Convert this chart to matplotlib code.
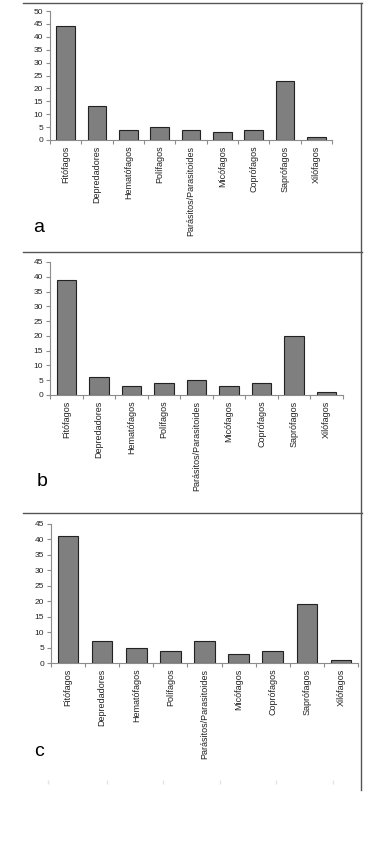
import matplotlib
matplotlib.use("Agg")
import matplotlib.pyplot as plt
from matplotlib.lines import Line2D
import numpy as np

categories = ["Fitófagos", "Depredadores", "Hematófagos", "Polífagos",
              "Parásitos/Parasitoides", "Micófagos", "Coprófagos",
              "Saprófagos", "Xilófagos"]
values_a = [44, 13, 4, 5, 4, 3, 4, 23, 1]
values_b = [39, 6, 3, 4, 5, 3, 4, 20, 1]
values_c = [41, 7, 5, 4, 7, 3, 4, 19, 1]
panel_letters = ["a", "b", "c"]
ymaxes = [50, 45, 45]

W, H = 369, 867
fig = plt.figure(figsize=(W / 100, H / 100), dpi=100)
plt.rcParams['font.family'] = ['Liberation Sans', 'DejaVu Sans']

def px(x0, ytop, x1, ybot):
    return [x0 / W, 1 - ybot / H, (x1 - x0) / W, (ybot - ytop) / H]

rects = [px(50, 11, 332, 140), px(50, 262, 343, 395), px(51, 524, 358, 663)]
letter_pos = [(39, 228), (42, 481), (39, 752)]
series = [values_a, values_b, values_c]
spine_col = "#8c8c8c"
text_col = "#222222"

for rect, vals, ymax, letter, lp in zip(rects, series, ymaxes, panel_letters, letter_pos):
    ax = fig.add_axes(rect)
    x = np.arange(len(categories))
    ax.bar(x, vals, width=0.6, color="#7f7f7f", edgecolor="#222222", linewidth=0.8)
    ax.set_xlim(-0.5, len(categories) - 0.5)
    ax.set_ylim(0, ymax)
    ax.set_yticks(np.arange(0, ymax + 1, 5))
    ax.set_xticks(x)
    ax.set_xticklabels(categories, rotation=90, fontsize=6.5, color=text_col)
    ax.set_xticks(np.arange(-0.5, len(categories), 1), minor=True)
    ax.tick_params(axis='x', which='major', length=0, pad=4)
    ax.tick_params(axis='x', which='minor', length=3, color=spine_col, width=0.8)
    ax.tick_params(axis='y', length=3, color=spine_col, width=0.8, labelsize=6, labelcolor=text_col, pad=2)
    for s in ["top", "right"]:
        ax.spines[s].set_visible(False)
    for s in ["left", "bottom"]:
        ax.spines[s].set_color(spine_col)
        ax.spines[s].set_linewidth(0.8)
    fig.text(lp[0] / W, 1 - lp[1] / H, letter, fontsize=14, ha="center", va="center", color="black")

# panel frame lines
for yl in [3, 252, 513]:
    fig.add_artist(Line2D([23 / W, 362 / W], [1 - yl / H, 1 - yl / H], color="#555555", linewidth=1.0))
fig.add_artist(Line2D([361 / W, 361 / W], [1 - 3 / H, 1 - 790 / H], color="#555555", linewidth=1.0))

# faint marks near the bottom of the frame
for xm in [48, 107, 163, 220, 276, 333]:
    fig.add_artist(Line2D([xm / W], [1 - 782 / H], marker='|', markersize=3,
                          color="#e4e4e4", linestyle='none'))

fig.savefig("out.png", dpi=100)
